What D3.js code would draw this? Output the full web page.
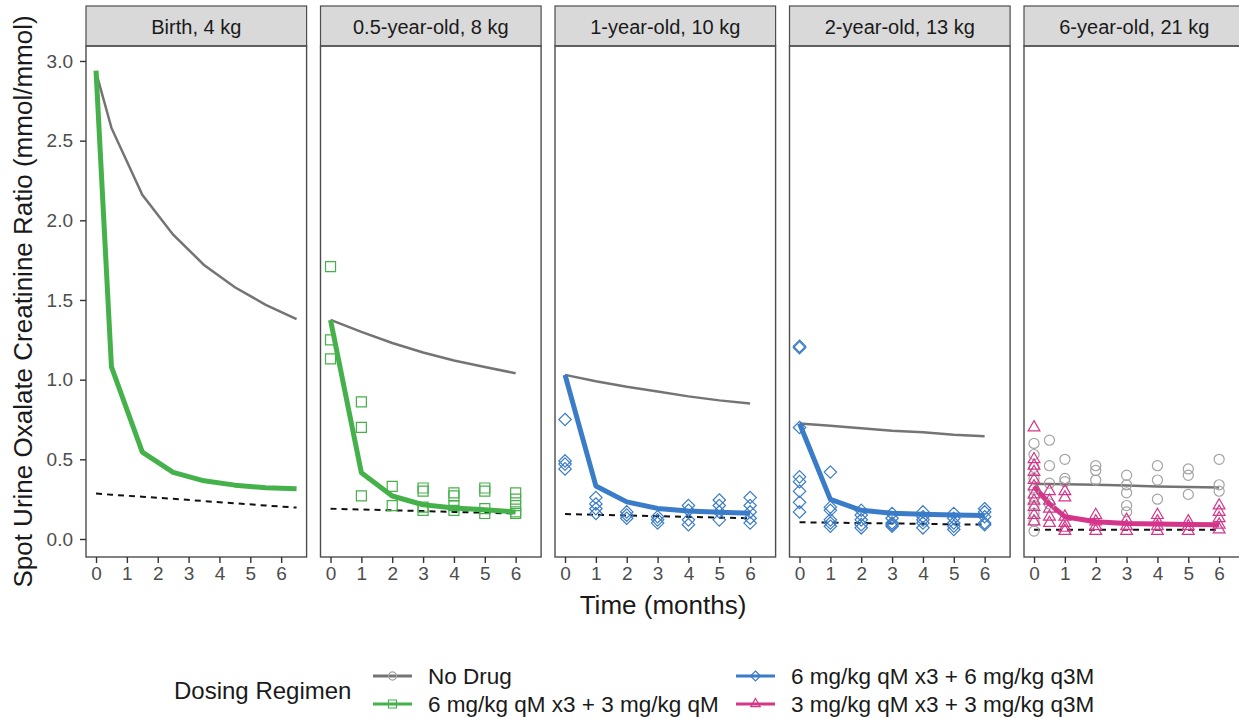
<!DOCTYPE html>
<html>
<head>
<meta charset="utf-8">
<script src="https://cdn.jsdelivr.net/npm/d3@7"></script>
<style>
  body { margin: 0; background: #fff; }
  svg { display: block; font-family: "Liberation Sans", Arial, sans-serif; }
</style>
</head>
<body>
<div id="chart"></div>
<script>
// facet titles
const panels = ['Birth, 4 kg', '0.5-year-old, 8 kg', '1-year-old, 10 kg', '2-year-old, 13 kg', '6-year-old, 21 kg'];

const regimens = ['No Drug', '6 mg/kg qM x3 + 3 mg/kg qM', '6 mg/kg qM x3 + 6 mg/kg q3M', '3 mg/kg qM x3 + 3 mg/kg q3M'];
const regimenColors = ['#747474', '#45b14a', '#3b7cc8', '#d4368a'];
const regimenShapes = ['circle', 'square', 'diamond', 'triangle'];

// which regimen is simulated in each panel
const panelRegimen = [1, 1, 2, 2, 3];

// simulated time points (months) for each panel
const lineTimes = [
  [0, 0.5, 1.5, 2.5, 3.5, 4.5, 5.5, 6.5],
  [0, 1, 2, 3, 4, 5, 6],
  [0, 1, 2, 3, 4, 5, 6],
  [0, 1, 2, 3, 4, 5, 6],
  [0, 0.5, 1, 2, 3, 4, 5, 6]
];

const noDrugLine = [
  [2.93, 2.58, 2.16, 1.91, 1.72, 1.58, 1.47, 1.38],
  [1.375, 1.30, 1.23, 1.17, 1.12, 1.08, 1.04],
  [1.03, 0.99, 0.955, 0.925, 0.895, 0.87, 0.85],
  [0.725, 0.71, 0.695, 0.68, 0.67, 0.655, 0.645],
  [0.345, 0.345, 0.344, 0.34, 0.335, 0.33, 0.327, 0.323]
];

const treatedLine = [
  [2.94, 1.08, 0.545, 0.418, 0.365, 0.338, 0.322, 0.315],
  [1.375, 0.415, 0.27, 0.215, 0.195, 0.183, 0.17],
  [1.03, 0.333, 0.233, 0.192, 0.176, 0.168, 0.162],
  [0.725, 0.249, 0.18, 0.162, 0.155, 0.15, 0.148],
  [0.33, 0.22, 0.14, 0.108, 0.097, 0.094, 0.091, 0.09]
];

// dashed reference line
const targetLine = [
  [0.285, 0.278, 0.265, 0.252, 0.238, 0.224, 0.21, 0.197],
  [0.19, 0.185, 0.18, 0.175, 0.17, 0.165, 0.16],
  [0.157, 0.152, 0.148, 0.143, 0.139, 0.134, 0.13],
  [0.105, 0.103, 0.1, 0.098, 0.095, 0.092, 0.09],
  [0.058, 0.058, 0.058, 0.058, 0.058, 0.058, 0.058, 0.058]
];

// observed values [time, value] by panel, treated patients
const obsTreated = [
  [],
  [[0, 1.71], [0, 1.25], [0, 1.13],
   [1, 0.86], [1, 0.70], [1, 0.27],
   [2, 0.33], [2, 0.21],
   [3, 0.32], [3, 0.30], [3, 0.20], [3, 0.18],
   [4, 0.29], [4, 0.27], [4, 0.21], [4, 0.18],
   [5, 0.32], [5, 0.30], [5, 0.19], [5, 0.16],
   [6, 0.29], [6, 0.25], [6, 0.21], [6, 0.17], [6, 0.16]],
  [[0, 0.75], [0, 0.49], [0, 0.47], [0, 0.44],
   [1, 0.26], [1, 0.22], [1, 0.19], [1, 0.16],
   [2, 0.17], [2, 0.15], [2, 0.13],
   [3, 0.14], [3, 0.12], [3, 0.10],
   [4, 0.21], [4, 0.18], [4, 0.12], [4, 0.09],
   [5, 0.245], [5, 0.21], [5, 0.17], [5, 0.12],
   [6, 0.26], [6, 0.21], [6, 0.17], [6, 0.13], [6, 0.10]],
  [[0, 1.21], [0, 1.20], [0, 0.70], [0, 0.39], [0, 0.36], [0, 0.30], [0, 0.23], [0, 0.17],
   [1, 0.42], [1, 0.20], [1, 0.18], [1, 0.12], [1, 0.10], [1, 0.08],
   [2, 0.18], [2, 0.15], [2, 0.12], [2, 0.09], [2, 0.07],
   [3, 0.16], [3, 0.13], [3, 0.10], [3, 0.09], [3, 0.08],
   [4, 0.17], [4, 0.14], [4, 0.12], [4, 0.10], [4, 0.07],
   [5, 0.16], [5, 0.13], [5, 0.10], [5, 0.08], [5, 0.06],
   [6, 0.19], [6, 0.17], [6, 0.14], [6, 0.10], [6, 0.09]],
  [[0, 0.70], [0, 0.50], [0, 0.46], [0, 0.42], [0, 0.37], [0, 0.33], [0, 0.28], [0, 0.24], [0, 0.20], [0, 0.15], [0, 0.11],
   [0.5, 0.30], [0.5, 0.24], [0.5, 0.19], [0.5, 0.14], [0.5, 0.10],
   [1, 0.30], [1, 0.26], [1, 0.14], [1, 0.10], [1, 0.07], [1, 0.05],
   [2, 0.15], [2, 0.11], [2, 0.08], [2, 0.05],
   [3, 0.12], [3, 0.08], [3, 0.05],
   [4, 0.15], [4, 0.11], [4, 0.08], [4, 0.05],
   [5, 0.11], [5, 0.08], [5, 0.05],
   [6, 0.21], [6, 0.17], [6, 0.13], [6, 0.09], [6, 0.06]]
];

// observed untreated patients (only the oldest group)
const obsNoDrug = [
  [], [], [], [],
  [[0, 0.60], [0, 0.53], [0, 0.45], [0, 0.38], [0, 0.31], [0, 0.26], [0, 0.21], [0, 0.16], [0, 0.11], [0, 0.05],
   [0.5, 0.62], [0.5, 0.46], [0.5, 0.35], [0.5, 0.22],
   [1, 0.50], [1, 0.38], [1, 0.36],
   [2, 0.46], [2, 0.43], [2, 0.37],
   [3, 0.40], [3, 0.34], [3, 0.29], [3, 0.21], [3, 0.17],
   [4, 0.46], [4, 0.37], [4, 0.25],
   [5, 0.44], [5, 0.40], [5, 0.28],
   [6, 0.50], [6, 0.34], [6, 0.30]]
];

const yTicks = [0, 0.5, 1, 1.5, 2, 2.5, 3];
const xTicks = [0, 1, 2, 3, 4, 5, 6];

const width = 1239;
const height = 719;

const layout = { left: 86, step: 234.5, panelW: 220.6, stripTop: 6, top: 46, bottom: 557 };

const svg = d3.select('#chart').append('svg')
  .attr('width', width)
  .attr('height', height);

const x = d3.scaleLinear().domain([-0.325, 6.825]).range([0, layout.panelW]);
const y = d3.scaleLinear().domain([-0.113, 3.094]).range([layout.bottom, layout.top]);

const line = d3.line()
  .x(d => x(d[0]))
  .y(d => y(d[1]));

function shapePath(shape, size) {
  if (shape === 'circle') return d3.symbol(d3.symbolCircle, size * size * 0.8)();
  if (shape === 'square') return d3.symbol(d3.symbolSquare, size * size)();
  if (shape === 'triangle') return d3.symbol(d3.symbolTriangle, size * size * 0.6)();
  // diamond: square turned 45 degrees
  const h = size * 0.62;
  return `M0,${-h}L${h},0L0,${h}L${-h},0Z`;
}

panels.forEach((title, i) => {
  const g = svg.append('g')
    .attr('transform', 'translate(' + (layout.left + i * layout.step) + ',0)');

  // strip
  g.append('rect')
    .attr('x', 0).attr('y', layout.stripTop)
    .attr('width', layout.panelW).attr('height', layout.top - layout.stripTop)
    .attr('fill', '#d9d9d9')
    .attr('stroke', '#4d4d4d')
    .attr('stroke-width', 1.2);

  g.append('text')
    .attr('x', layout.panelW / 2)
    .attr('y', 33.5)
    .attr('text-anchor', 'middle')
    .attr('font-size', 20)
    .attr('fill', '#1a1a1a')
    .text(title);

  const plot = g.append('g');

  const times = lineTimes[i];
  const r = panelRegimen[i];

  plot.append('path')
    .datum(times.map((t, k) => [t, targetLine[i][k]]))
    .attr('d', line)
    .attr('fill', 'none')
    .attr('stroke', '#111')
    .attr('stroke-width', 2)
    .attr('stroke-dasharray', '6,5');

  plot.append('path')
    .datum(times.map((t, k) => [t, noDrugLine[i][k]]))
    .attr('d', line)
    .attr('fill', 'none')
    .attr('stroke', regimenColors[0])
    .attr('stroke-width', 2.5);

  plot.append('path')
    .datum(times.map((t, k) => [t, treatedLine[i][k]]))
    .attr('d', line)
    .attr('fill', 'none')
    .attr('stroke', regimenColors[r])
    .attr('stroke-width', 5)
    .attr('stroke-linejoin', 'round');

  plot.selectAll('.obs0')
    .data(obsNoDrug[i])
    .join('path')
    .attr('class', 'obs0')
    .attr('transform', d => 'translate(' + x(d[0]) + ',' + y(d[1]) + ')')
    .attr('d', shapePath('circle', 10))
    .attr('fill', 'none')
    .attr('stroke', '#a3a3a3')
    .attr('stroke-width', 1.2);

  plot.selectAll('.obs1')
    .data(obsTreated[i])
    .join('path')
    .attr('class', 'obs1')
    .attr('transform', d => 'translate(' + x(d[0]) + ',' + y(d[1]) + ')')
    .attr('d', shapePath(regimenShapes[r], 10))
    .attr('fill', 'none')
    .attr('stroke', regimenColors[r])
    .attr('stroke-width', 1.2);

  // panel border
  g.append('rect')
    .attr('x', 0).attr('y', layout.top)
    .attr('width', layout.panelW).attr('height', layout.bottom - layout.top)
    .attr('fill', 'none')
    .attr('stroke', '#4d4d4d')
    .attr('stroke-width', 1.4);

  // x axis
  const xAxis = g.append('g')
    .attr('transform', 'translate(0,' + layout.bottom + ')')
    .call(d3.axisBottom(x).tickValues(xTicks).tickSize(6).tickPadding(4).tickFormat(d3.format('d')));
  xAxis.select('.domain').remove();
  xAxis.selectAll('line').attr('stroke', '#333').attr('stroke-width', 1.4);
  xAxis.selectAll('text')
    .attr('font-size', 19)
    .attr('font-family', '"Liberation Sans", Arial, sans-serif')
    .attr('fill', '#4d4d4d');

  if (i === 0) {
    const yAxis = g.append('g')
      .call(d3.axisLeft(y).tickValues(yTicks).tickSize(6).tickPadding(7).tickFormat(d3.format('.1f')));
    yAxis.select('.domain').remove();
    yAxis.selectAll('line').attr('stroke', '#333').attr('stroke-width', 1.4);
    yAxis.selectAll('text')
      .attr('font-size', 19)
      .attr('font-family', '"Liberation Sans", Arial, sans-serif')
      .attr('fill', '#4d4d4d');
  }
});

// axis titles
svg.append('text')
  .attr('transform', 'translate(32,' + (layout.top + layout.bottom) / 2 + ') rotate(-90)')
  .attr('text-anchor', 'middle')
  .attr('font-size', 26)
  .attr('fill', '#1a1a1a')
  .text('Spot Urine Oxalate Creatinine Ratio (mmol/mmol)');

svg.append('text')
  .attr('x', 663)
  .attr('y', 614)
  .attr('text-anchor', 'middle')
  .attr('font-size', 26)
  .attr('fill', '#1a1a1a')
  .text('Time (months)');

// legend
const legend = svg.append('g');

legend.append('text')
  .attr('x', 174)
  .attr('y', 699)
  .attr('font-size', 24)
  .attr('fill', '#1a1a1a')
  .text('Dosing Regimen');

const keyPos = [[373, 676], [373, 704], [736, 676], [736, 704]];

regimens.forEach((name, k) => {
  const [kx, ky] = keyPos[k];
  const item = legend.append('g').attr('transform', 'translate(' + kx + ',' + ky + ')');
  item.append('line')
    .attr('x1', 0).attr('x2', 39)
    .attr('y1', 0).attr('y2', 0)
    .attr('stroke', regimenColors[k])
    .attr('stroke-width', 2.8);
  item.append('path')
    .attr('transform', 'translate(19.5,0)')
    .attr('d', shapePath(regimenShapes[k], 8))
    .attr('fill', 'none')
    .attr('stroke', k === 0 ? '#a3a3a3' : regimenColors[k])
    .attr('stroke-width', 1.2);
  item.append('text')
    .attr('x', 55)
    .attr('y', 8)
    .attr('font-size', 22.5)
    .attr('fill', '#1a1a1a')
    .text(name);
});
</script>
</body>
</html>
